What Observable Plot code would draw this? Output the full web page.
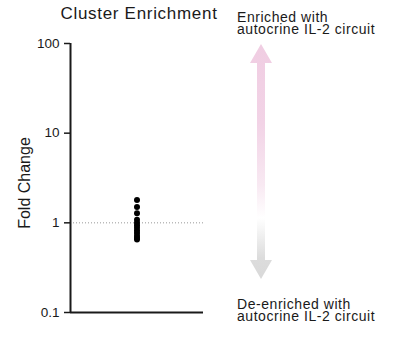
<!DOCTYPE html>
<html>
<head>
<meta charset="utf-8">
<script src="https://cdn.jsdelivr.net/npm/d3@7"></script>
<script src="https://cdn.jsdelivr.net/npm/@observablehq/plot@0.6"></script>
<style>
  html, body { margin: 0; padding: 0; background: #fff; }
  #wrap { position: relative; width: 393px; height: 339px; font-family: "Liberation Sans", Arial, sans-serif; }
  #wrap svg { position: absolute; left: 0; top: 0; }
</style>
</head>
<body>
<div id="wrap"></div>
<script>
// Data
const title = "Cluster Enrichment";
const yLabel = "Fold Change";
const foldChanges = [1.8, 1.5, 1.28, 1.08, 1.0, 0.94, 0.88, 0.82, 0.77, 0.72, 0.68, 0.65];
const yTicks = [0.1, 1, 10, 100];
const yTickLabels = ["0.1", "1", "10", "100"];
const topNote = ["Enriched with", "autocrine IL-2 circuit"];
const bottomNote = ["De-enriched with", "autocrine IL-2 circuit"];

const font = "'Liberation Sans', Arial, sans-serif";
const ink = "#1a1a1a";

const chart = Plot.plot({
  width: 393,
  height: 339,
  marginLeft: 70,
  marginRight: 190,
  marginTop: 43,
  marginBottom: 27,
  style: { fontFamily: font, color: ink, background: "transparent" },
  x: { domain: [0, 1], axis: null },
  y: { type: "log", domain: [0.1, 100], axis: null },
  marks: [
    Plot.ruleY([1], { stroke: "#999", strokeWidth: 1, strokeDasharray: "1,2" }),
    Plot.axisY({
      ticks: yTicks,
      tickFormat: (d) => yTickLabels[yTicks.indexOf(d)],
      tickSize: 6,
      tickPadding: 5,
      strokeWidth: 1.5,
      fontSize: 13.5,
      label: null
    }),
    Plot.ruleX([0], { stroke: ink, strokeWidth: 2 }),
    Plot.ruleY([0.1], { stroke: ink, strokeWidth: 2 }),
    Plot.dot(foldChanges, { x: () => 0.5, y: (d) => d, r: 3, fill: "black", stroke: "none" }),
    Plot.text([yLabel], {
      frameAnchor: "left", textAnchor: "middle", dx: -46, dy: 5, rotate: -90, fontSize: 16, fill: ink,
      text: (d) => d, letterSpacing: 0.5
    })
  ]
});
document.getElementById("wrap").appendChild(chart);

// Overlay: title, annotations and the gradient arrow
const svg = d3.select("#wrap").append("svg")
  .attr("width", 393).attr("height", 339)
  .style("font-family", font);

svg.append("text")
  .attr("x", 139).attr("y", 18.5)
  .attr("text-anchor", "middle")
  .attr("font-size", 17).attr("letter-spacing", 0.7).attr("fill", ink)
  .text(title);

const defs = svg.append("defs");
const grad = defs.append("linearGradient")
  .attr("id", "arrowGrad")
  .attr("gradientUnits", "userSpaceOnUse")
  .attr("x1", 0).attr("x2", 0).attr("y1", 44).attr("y2", 279);
[[0, "#f0cde2"], [0.34, "#f2d3e6"], [0.6, "#f8e9f2"], [0.74, "#ffffff"], [0.79, "#f5f5f5"], [0.91, "#dcdcdc"], [1, "#d9d9d9"]]
  .forEach(([o, c]) => grad.append("stop").attr("offset", o).attr("stop-color", c));

const cx = 261, tipT = 44, tipB = 279, headH = 19, headW = 11, shaftW = 4;
const path = [
  [cx, tipT], [cx + headW, tipT + headH], [cx + shaftW, tipT + headH],
  [cx + shaftW, tipB - headH], [cx + headW, tipB - headH], [cx, tipB],
  [cx - headW, tipB - headH], [cx - shaftW, tipB - headH], [cx - shaftW, tipT + headH],
  [cx - headW, tipT + headH]
];
svg.append("path")
  .attr("d", d3.line()(path) + "Z")
  .attr("fill", "url(#arrowGrad)");

function note(lines, x, y0, lh) {
  const t = svg.append("text").attr("font-size", 14).attr("letter-spacing", 0.55).attr("fill", ink);
  lines.forEach((l, i) => t.append("tspan").attr("x", x).attr("y", y0 + i * lh).text(l));
}
note(topNote, 237, 22.3, 12);
note(bottomNote, 237, 308.7, 12);
</script>
</body>
</html>
